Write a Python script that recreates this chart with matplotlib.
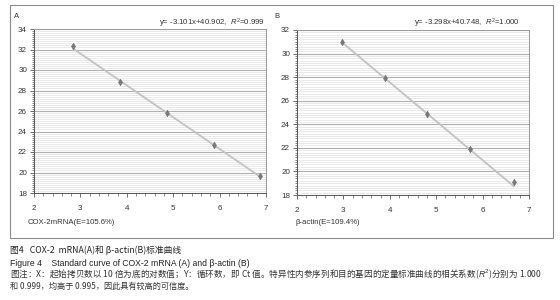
import numpy as np
import matplotlib
matplotlib.use("Agg")
import matplotlib.pyplot as plt
from matplotlib.ticker import MultipleLocator
from matplotlib.patches import Rectangle

plt.rcParams['font.family'] = ['Liberation Sans', 'DejaVu Sans']
plt.rcParams['mathtext.fontset'] = 'custom'
plt.rcParams['mathtext.rm'] = 'Liberation Sans'
plt.rcParams['mathtext.it'] = 'Liberation Sans:italic'

# panel A: COX-2 mRNA
log_copies_a = [2.85, 3.85, 4.87, 5.87, 6.87]
ct_a = [32.3, 28.8, 25.8, 22.7, 19.7]
fit_a = (-3.101, 40.902)
eq_a = 'y= -3.101x+40.902,  $R^2$=0.999'
label_a = 'COX-2mRNA(E=105.6%)'

# panel B: beta-actin
log_copies_b = [2.98, 3.89, 4.80, 5.72, 6.67]
ct_b = [31.0, 27.9, 24.9, 21.9, 19.1]
fit_b = (-3.298, 40.748)
eq_b = 'y= -3.298x+40.748,  $R^2$=1.000'
label_b = 'β-actin(E=109.4%)'

W, H = 560, 300
fig = plt.figure(figsize=(5.6, 3.0), dpi=100)


def px(x, y):
    # pixel coords (top-left origin) -> figure fraction
    return x / W, 1 - y / H


def panel(rect, xs, ys, fit, ylim, letter, eq, label, lpos, epos, tpos):
    l, t, r, b = rect
    ax = fig.add_axes([l / W, 1 - b / H, (r - l) / W, (b - t) / H])
    ax.set_xlim(2, 7)
    ax.set_ylim(*ylim)
    ax.xaxis.set_major_locator(MultipleLocator(1))
    ax.xaxis.set_minor_locator(MultipleLocator(0.2))
    ax.yaxis.set_major_locator(MultipleLocator(2))
    ax.yaxis.set_minor_locator(MultipleLocator(0.2))
    ax.grid(which='minor', axis='y', color='#e0e0e0', lw=0.5)
    ax.grid(which='major', axis='y', color='#b0b0b0', lw=0.8)
    ax.set_axisbelow(True)
    for s in ax.spines.values():
        s.set_color('#9a9a9a')
        s.set_linewidth(0.7)
    ax.spines['left'].set_color('#555555')
    ax.spines['bottom'].set_color('#555555')
    ax.tick_params(which='both', direction='out', colors='#555555',
                   labelcolor='#333333', labelsize=5.8, pad=6)
    ax.tick_params(which='major', length=3, width=0.6)
    ax.tick_params(which='minor', length=1.8, width=0.5)
    ax.tick_params(axis='y', pad=2)

    xf = np.array([min(xs), max(xs)])
    ax.plot(xf, fit[0] * xf + fit[1], color='#c2c2c2', lw=1.3, zorder=2)
    ax.plot(xs, ys, linestyle='none', marker='d', markersize=3.3,
            color='#7a7a7a', markeredgecolor='#666666', markeredgewidth=0.4,
            zorder=3)

    fig.text(*px(*lpos), letter, fontsize=5.5, ha='left', va='center', color='#333333')
    fig.text(*px(*epos), eq, fontsize=5.6, ha='right', va='center', color='#333333')
    fig.text(*px(*tpos), label, fontsize=5.6, ha='left', va='center', color='#333333')
    return ax


panel((34, 29, 266, 193), log_copies_a, ct_a, fit_a, (18, 34), 'A', eq_a, label_a,
      (14, 17), (265, 23), (28, 223))
panel((297, 30, 529, 195), log_copies_b, ct_b, fit_b, (18, 32), 'B', eq_b, label_b,
      (274, 16), (520, 23), (295, 223))

# outer frame
fig.patches.append(Rectangle(px(10, 238), 543 / W, 233 / H, transform=fig.transFigure,
                             fill=False, edgecolor='#8c8c8c', lw=0.8))

cjk = ['Noto Sans CJK SC', 'DejaVu Sans']
fig.text(*px(10, 250), '图4   COX-2  mRNA(A)和 β-actin(B)标准曲线', family=cjk,
         fontsize=6.3, fontweight='medium', va='center', color='#222222')
fig.text(*px(10, 263), 'Figure 4    Standard curve of COX-2 mRNA (A) and β-actin (B)',
         family=['Liberation Sans', 'DejaVu Sans'], fontsize=6.2, va='center', color='#222222')
fig.text(*px(10, 274), '图注：X：起始拷贝数以 10 倍为底的对数值；Y：循环数，即 Ct 值。特异性内参序列和目的基因的定量标准曲线的相关系数($R^2$)分别为 1.000',
         family=cjk, fontsize=6.2, va='center', color='#333333')
fig.text(*px(10, 286), '和 0.999，均高于 0.995，因此具有较高的可信度。',
         family=cjk, fontsize=5.9, va='center', color='#333333')

fig.savefig('out.png', dpi=100)
